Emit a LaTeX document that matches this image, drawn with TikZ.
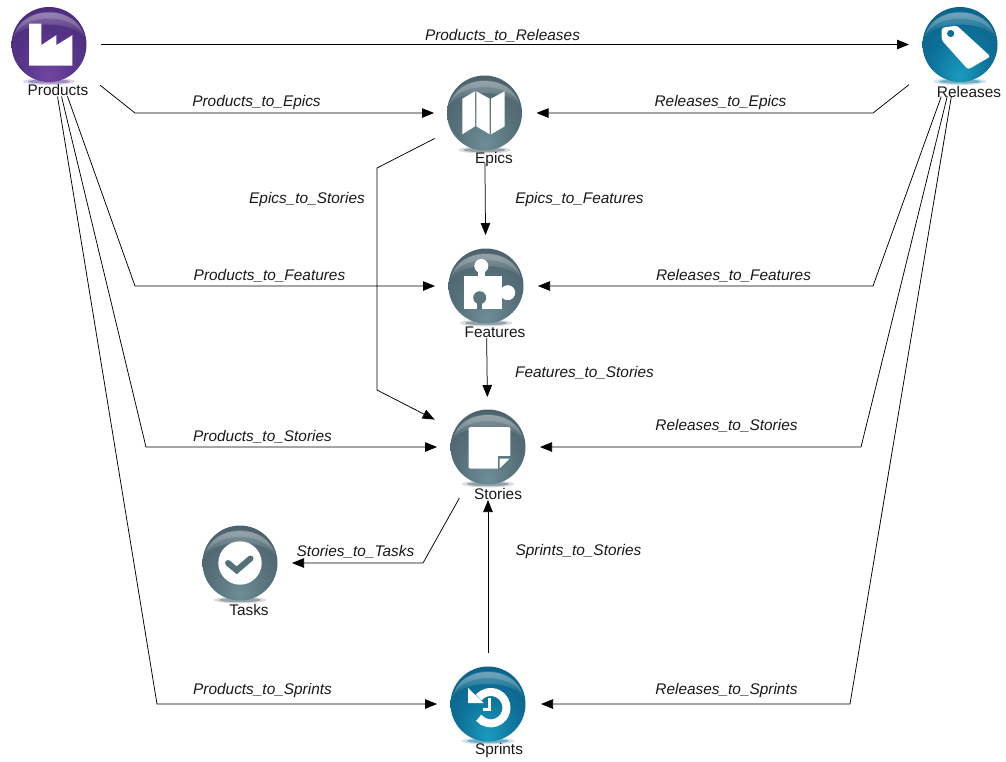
\documentclass[tikz,border=0pt]{standalone}
\usepackage{fontspec}
\setmainfont{Liberation Sans}
\usetikzlibrary{arrows.meta,fadings}
\definecolor{pa}{HTML}{7145A2}\definecolor{pb}{HTML}{553388}\definecolor{pc}{HTML}{452873}
\definecolor{sa}{HTML}{6E8E97}\definecolor{sb}{HTML}{567079}\definecolor{sc}{HTML}{445964}
\definecolor{ta}{HTML}{1A9CC0}\definecolor{tb}{HTML}{0D7098}\definecolor{tc}{HTML}{0A5A80}
\pgfdeclareradialshading{ballpurple}{\pgfpoint{0bp}{-22bp}}{color(0bp)=(pa);color(20bp)=(pb);color(42bp)=(pc);color(50bp)=(pc)}
\pgfdeclareradialshading{ballslate}{\pgfpoint{0bp}{-22bp}}{color(0bp)=(sa);color(20bp)=(sb);color(42bp)=(sc);color(50bp)=(sc)}
\pgfdeclareradialshading{ballteal}{\pgfpoint{0bp}{-22bp}}{color(0bp)=(ta);color(20bp)=(tb);color(42bp)=(tc);color(50bp)=(tc)}
\tikzset{
  ballnode/.style={circle,minimum size=75pt,inner sep=0pt,shade,shading=#1},
  iconname/.style={inner sep=0pt,text=black!90,font=\fontsize{15.4}{17}\selectfont},
  edgelabel/.style={inner sep=0pt,text=black!90,font=\fontsize{15.4}{17}\selectfont\itshape},
  conn/.style={draw=black,line width=.75pt,-{Triangle[length=12pt,width=9.5pt]},shorten <=#1},
  iconfill/.style={fill=white,draw=none},
}
\newcommand{\gloss}[1]{%
  \begin{scope}[shift={(#1)}]
    \fill[white,opacity=.4,path fading=south] (-34,-8) .. controls (-29,-40) and (29,-40) .. (34,-8) .. controls (24,-24) and (-24,-24) .. (-34,-8) -- cycle;
    \fill[white,opacity=.16] (-35,-8) .. controls (-28,-41) and (28,-41) .. (35,-8) .. controls (26,-32) and (-26,-32) .. (-35,-8) -- cycle;
  \end{scope}}
\newcommand{\ballshadow}[3]{%
  \fill[#3,opacity=.2] (#1,#2+37) ellipse[x radius=26pt,y radius=3.5pt];
  \fill[#3,opacity=.45] (#1,#2+37) ellipse[x radius=21pt,y radius=2.2pt];}
\begin{document}
\begin{tikzpicture}[x=1pt,y=-1pt]
\useasboundingbox (0,0) rectangle (1006,761);
\fill[white] (0,0) rectangle (1006,761);
% shadows
\ballshadow{49}{44.5}{pb}
\ballshadow{960}{44.5}{tb}
\ballshadow{484.5}{113}{sc}
\ballshadow{486}{286}{sc}
\ballshadow{488}{447}{sc}
\ballshadow{240}{563}{sc}
\ballshadow{488}{704}{tb}
% balls
\node[ballnode=ballpurple] (products) at (49,44.5) {};
\node[ballnode=ballteal] (releases) at (960,44.5) {};
\node[ballnode=ballslate] (epics) at (484.5,113) {};
\node[ballnode=ballslate] (features) at (486,286) {};
\node[ballnode=ballslate] (stories) at (488,447) {};
\node[ballnode=ballslate] (tasks) at (240,563) {};
\node[ballnode=ballteal] (sprints) at (488,704) {};
\gloss{products.center}\gloss{releases.center}\gloss{epics.center}\gloss{features.center}\gloss{stories.center}\gloss{tasks.center}\gloss{sprints.center}
% factory
\begin{scope}[shift={(products.center)}]
  \fill[iconfill] (-20,21) -- (-20,-21) -- (-7.7,-21) -- (-7.7,.7) -- (7.3,-9.3) -- (7.3,.7) -- (23.3,-9.3) -- (23.3,21) -- cycle;
\end{scope}
% tag
\begin{scope}[shift={(releases.center)}]
  \fill[iconfill,rounded corners=2.5pt] (-18.3,-16.7) -- (-3.3,-19) -- (30.5,12) -- (8,25) -- (-18.3,-4.3) -- cycle;
  \fill[tb] (-9.3,-11) circle[radius=3.6pt];
\end{scope}
% map
\begin{scope}[shift={(epics.center)},xshift=-1.5pt,yshift=1pt]
  \fill[iconfill] (-20.7,-13.3) -- (-8,-20.7) -- (-8,14.3) -- (-20.7,22.3) -- cycle;
  \fill[iconfill] (-6.7,-20.7) -- (6.7,-13.3) -- (6.7,22.3) -- (-6.7,14.3) -- cycle;
  \fill[iconfill] (8,-13.3) -- (21.7,-20.7) -- (21.7,14.3) -- (8,22.3) -- cycle;
\end{scope}
% puzzle
\begin{scope}[shift={(features.center)}]
  \fill[iconfill] (-22.3,-10) rectangle (16,23.3);
  \fill[iconfill] (-4.7,-20) circle[radius=7pt];
  \fill[iconfill] (-8,-17) rectangle (-1.4,-9);
  \fill[iconfill] (21.7,6.7) circle[radius=7.5pt];
  \fill[iconfill] (14,3.2) rectangle (19,10.2);
  \fill[sb!80!sa] (-6.3,11.7) circle[radius=6.5pt];
  \fill[sb!80!sa] (-9,13) rectangle (-3.6,24);
\end{scope}
% note
\begin{scope}[shift={(stories.center)}]
  \fill[iconfill,rounded corners=1.5pt] (-19.3,-20) rectangle (22.3,21.7);
  \fill[sb!70!sa] (9.7,9.3) rectangle (23.5,23);
  \fill[iconfill] (11.5,11.5) -- (21.7,11.5) -- (11.5,21.7) -- cycle;
\end{scope}
% check
\begin{scope}[shift={(tasks.center)}]
  \fill[iconfill] (0,0) circle[radius=21.7pt];
  \draw[sb,line width=6pt,line cap=round,line join=miter] (-12,0) -- (-3.3,7.3) -- (10.5,-4.5);
\end{scope}
% history
\begin{scope}[shift={(sprints.center)}]
  \draw[white,line width=8pt] (-9.3,-6.4) arc[start angle=140,end angle=-140,radius=15.7pt];
  \fill[iconfill] (-20,-16) -- (-20,-1) -- (-4.3,-1) -- cycle;
  \draw[white,line width=3pt] (1.7,-6) -- (1.7,5.7) -- (-5,5.7);
\end{scope}
% names
\node[iconname] (productsname) at (58,90) {Products};
\node[iconname] (releasesname) at (969,91.5) {Releases};
\node[iconname] (epicsname) at (494,159.5) {Epics};
\node[iconname] (featuresname) at (495,332) {Features};
\node[iconname] (storiesname) at (498,493.5) {Stories};
\node[iconname] (tasksname) at (249,609.5) {Tasks};
\node[iconname] (sprintsname) at (499,750.5) {Sprints};
% connectors
\draw[conn=52pt,shorten >=51pt] (products.center) -- (releases.center);
\draw[conn=65pt,shorten >=50.5pt] (products.center) -- (135,113) -- (epics.center);
\draw[conn=55pt,shorten >=51pt] (products.center) -- (135,286) -- (features.center);
\draw[conn=53.5pt,shorten >=51pt] (products.center) -- (146,447) -- (stories.center);
\draw[conn=52.7pt,shorten >=51pt] (products.center) -- (157,704) -- (sprints.center);
\draw[conn=65pt,shorten >=52pt] (releases.center) -- (873,113) -- (epics.center);
\draw[conn=55.4pt,shorten >=52pt] (releases.center) -- (873,286) -- (features.center);
\draw[conn=53.4pt,shorten >=52pt] (releases.center) -- (861,447) -- (stories.center);
\draw[conn=53pt,shorten >=53pt] (releases.center) -- (850,704) -- (sprints.center);
\draw[conn=56pt,shorten >=60pt] (epics.center) -- (377,168) -- (377,390) -- (stories.center);
\draw[conn=50pt,shorten >=51pt] (epics.center) -- (features.center);
\draw[conn=52pt,shorten >=50pt] (features.center) -- (stories.center);
\draw[conn=58.5pt,shorten >=52pt] (stories.center) -- (423,563) -- (tasks.center);
\draw[conn=51pt,shorten >=53pt] (sprints.center) -- (stories.center);
% edge labels
\node[edgelabel] (l1) at (502.5,35.5) {Products\_to\_Releases};
\node[edgelabel] (l2) at (256.5,102.5) {Products\_to\_Epics};
\node[edgelabel] (l3) at (720.5,102.5) {Releases\_to\_Epics};
\node[edgelabel] (l4) at (307,199.5) {Epics\_to\_Stories};
\node[edgelabel] (l5) at (579.5,199.5) {Epics\_to\_Features};
\node[edgelabel] (l6) at (269.5,275.5) {Products\_to\_Features};
\node[edgelabel] (l7) at (733.5,275.5) {Releases\_to\_Features};
\node[edgelabel] (l8) at (584.5,372.5) {Features\_to\_Stories};
\node[edgelabel] (l9) at (262.5,436.5) {Products\_to\_Stories};
\node[edgelabel] (l10) at (726.5,425.5) {Releases\_to\_Stories};
\node[edgelabel] (l11) at (355.5,551.5) {Stories\_to\_Tasks};
\node[edgelabel] (l12) at (578.5,551.5) {Sprints\_to\_Stories};
\node[edgelabel] (l13) at (262.5,690.5) {Products\_to\_Sprints};
\node[edgelabel] (l14) at (726.5,690.5) {Releases\_to\_Sprints};
\end{tikzpicture}
\end{document}
